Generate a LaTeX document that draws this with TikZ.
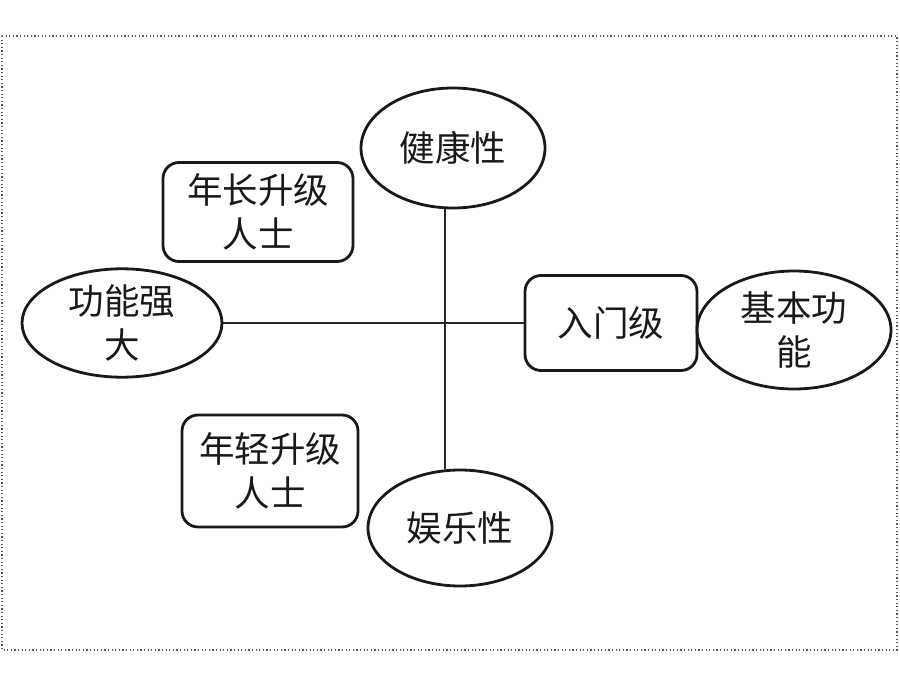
\documentclass[tikz,border=0pt]{standalone}
\usepackage{fontspec}
\setmainfont{Noto Sans CJK SC}
\usetikzlibrary{shapes.geometric}
\begin{document}
\begin{tikzpicture}[x=1pt,y=-1pt,
  lbl/.style={font=\fontsize{35.5}{44}\selectfont, align=center, text=black!90, inner sep=0pt},
  oval/.style={lbl, ellipse, draw=black!90, line width=2.8pt},
  rbox/.style={lbl, rectangle, rounded corners=16pt, draw=black!90, line width=2.8pt},
  conn/.style={draw=black!85, line width=1.2pt}]
\useasboundingbox (0,0) rectangle (900,685);
\draw[black!65, line width=1.3pt, dash pattern=on 1.2pt off 2.4pt] (2,36) rectangle (897,650);
\node[oval, minimum width=184pt, minimum height=120pt] (jk) at (453,148) {健康性};
\node[rbox, minimum width=190pt, minimum height=99pt] (nz) at (258,212) {年长升级\\人士};
\node[oval, minimum width=200pt, minimum height=104pt] (gn) at (122,323) {功能强\\大};
\node[rbox, minimum width=172pt, minimum height=95pt] (rm) at (611,323) {入门级};
\node[oval, minimum width=194pt, minimum height=118pt] (jb) at (794,330) {基本功\\能};
\node[rbox, minimum width=176pt, minimum height=112pt] (nq) at (270,471) {年轻升级\\人士};
\node[oval, minimum width=184pt, minimum height=116pt] (yl) at (460,528) {娱乐性};
\coordinate (vx) at (445,0);
\draw[conn] (jk.south -| vx) -- (yl.north -| vx);
\draw[conn] (gn.east) -- (rm.west);
\end{tikzpicture}
\end{document}
